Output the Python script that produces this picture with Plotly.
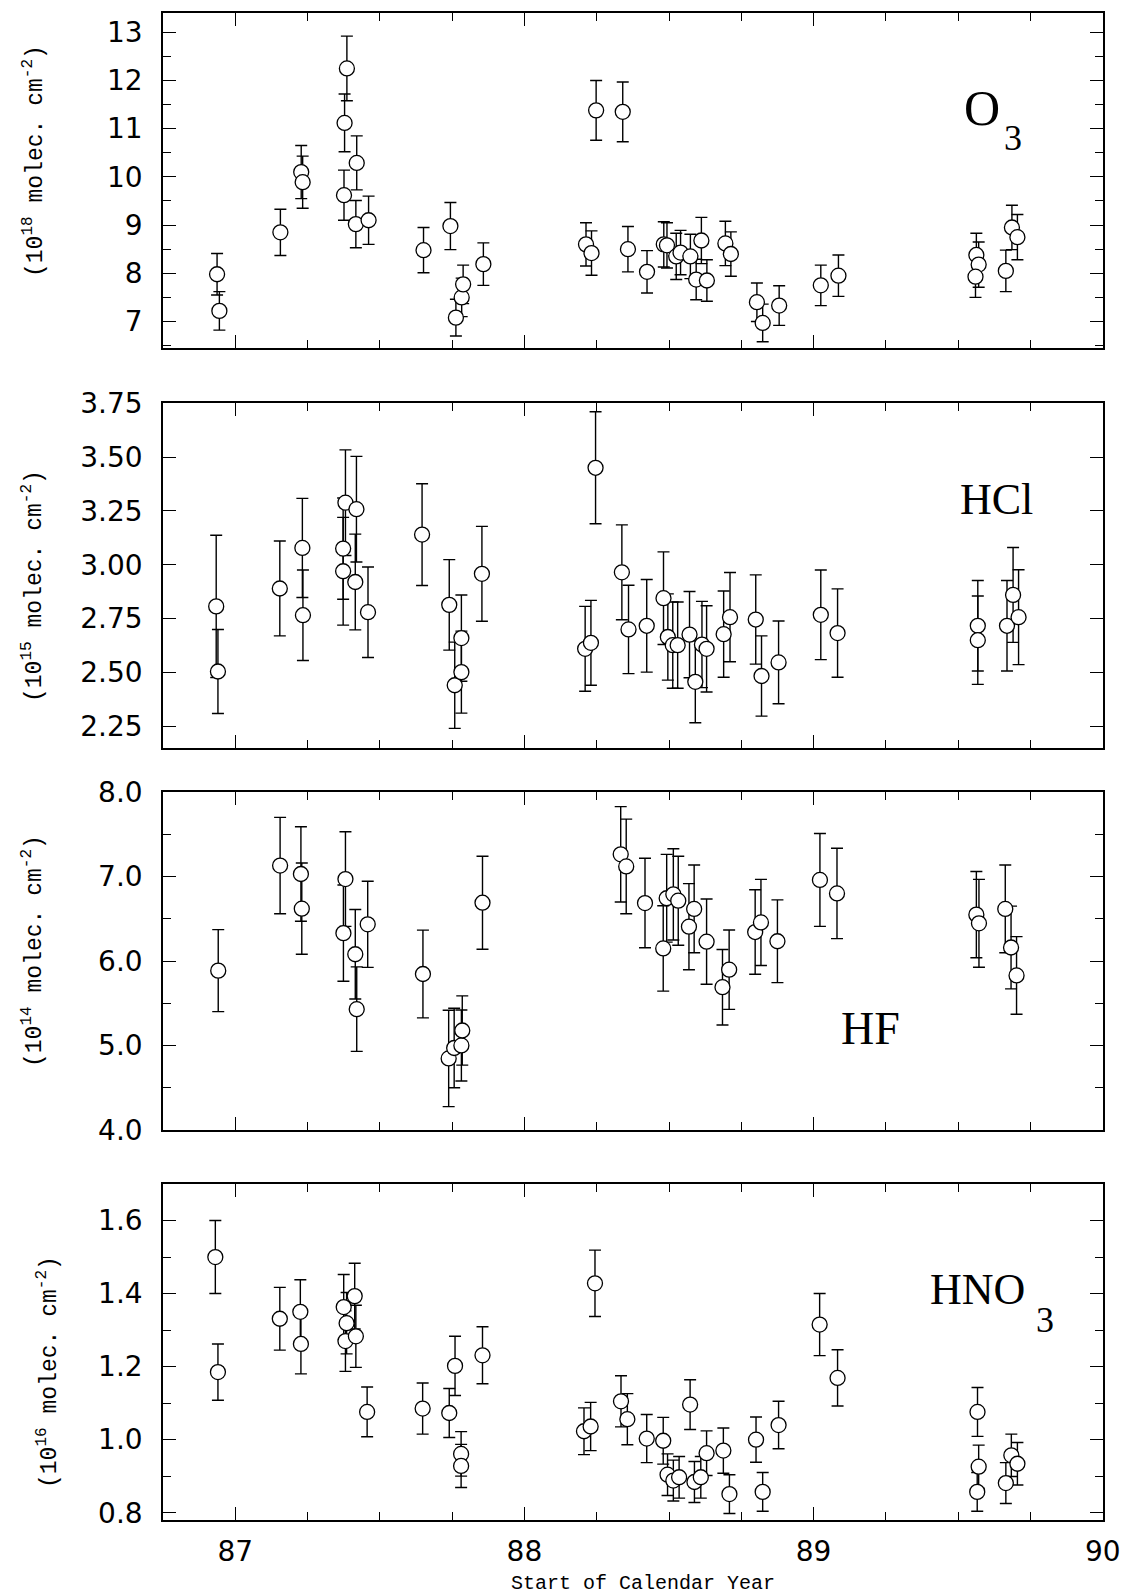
import plotly.graph_objects as go

W, H = 1124, 1594

# ---------------- data ----------------
o3_year = [86.937, 86.945, 87.156, 87.228, 87.233, 87.386, 87.378, 87.376, 87.420, 87.417,
           87.461, 87.651, 87.744, 87.763, 87.783, 87.788, 87.858, 88.248, 88.340, 88.213,
           88.232, 88.358, 88.424, 88.482, 88.493, 88.525, 88.540, 88.574, 88.594, 88.612,
           88.631, 88.695, 88.714, 88.804, 88.824, 88.881, 89.025, 89.086, 89.563, 89.571,
           89.560, 89.665, 89.686, 89.705]
o3_val = [7.98, 7.22, 8.85, 10.10, 9.89, 12.25, 11.12, 9.62, 10.29, 9.02,
          9.10, 8.48, 8.98, 7.08, 7.50, 7.77, 8.19, 11.38, 11.35, 8.60,
          8.42, 8.50, 8.03, 8.60, 8.58, 8.35, 8.43, 8.35, 7.87, 8.68,
          7.85, 8.62, 8.40, 7.40, 6.97, 7.33, 7.75, 7.95, 8.38, 8.18,
          7.93, 8.05, 8.95, 8.75]
o3_err = [0.43, 0.40, 0.48, 0.55, 0.54, 0.67, 0.60, 0.52, 0.56, 0.49,
          0.50, 0.47, 0.49, 0.38, 0.40, 0.40, 0.44, 0.62, 0.62, 0.45,
          0.46, 0.47, 0.44, 0.47, 0.47, 0.48, 0.46, 0.46, 0.42, 0.48,
          0.43, 0.46, 0.46, 0.40, 0.39, 0.41, 0.42, 0.43, 0.45, 0.47,
          0.43, 0.43, 0.46, 0.47]

hcl_year = [86.934, 86.940, 87.154, 87.232, 87.234, 87.381, 87.373, 87.373, 87.419, 87.415,
            87.459, 87.646, 87.740, 87.759, 87.782, 87.782, 87.853, 88.246, 88.210, 88.230,
            88.337, 88.360, 88.423, 88.481, 88.496, 88.513, 88.530, 88.571, 88.591, 88.614,
            88.630, 88.689, 88.711, 88.800, 88.820, 88.879, 89.025, 89.083, 89.568, 89.568,
            89.669, 89.690, 89.709]
hcl_val = [2.807, 2.505, 2.890, 3.078, 2.766, 3.288, 3.075, 2.970, 3.258, 2.920,
           2.780, 3.140, 2.814, 2.441, 2.660, 2.502, 2.958, 3.450, 2.610, 2.638,
           2.965, 2.700, 2.717, 2.845, 2.665, 2.627, 2.627, 2.676, 2.457, 2.630,
           2.610, 2.678, 2.757, 2.746, 2.484, 2.547, 2.768, 2.683, 2.717, 2.650,
           2.717, 2.860, 2.757]
hcl_err = [0.330, 0.195, 0.220, 0.230, 0.210, 0.245, 0.235, 0.250, 0.245, 0.222,
           0.210, 0.236, 0.210, 0.200, 0.200, 0.190, 0.220, 0.260, 0.197, 0.197,
           0.220, 0.205, 0.215, 0.215, 0.200, 0.200, 0.200, 0.200, 0.190, 0.200,
           0.200, 0.200, 0.207, 0.207, 0.186, 0.192, 0.208, 0.205, 0.210, 0.205,
           0.210, 0.220, 0.220]

hf_year = [86.941, 87.155, 87.227, 87.230, 87.381, 87.374, 87.415, 87.420, 87.458, 87.649,
           87.738, 87.757, 87.782, 87.785, 87.855, 88.333, 88.352, 88.417, 88.480, 88.492,
           88.515, 88.532, 88.569, 88.587, 88.630, 88.685, 88.708, 88.798, 88.818, 88.875,
           89.022, 89.081, 89.563, 89.572, 89.663, 89.683, 89.702]
hf_val = [5.886, 7.130, 7.030, 6.620, 6.970, 6.330, 6.080, 5.430, 6.434, 5.846,
          4.846, 4.970, 5.000, 5.177, 6.690, 7.263, 7.120, 6.686, 6.149, 6.743,
          6.789, 6.714, 6.406, 6.617, 6.229, 5.690, 5.897, 6.343, 6.457, 6.234,
          6.960, 6.800, 6.549, 6.446, 6.617, 6.160, 5.829]
hf_err = [0.486, 0.570, 0.560, 0.540, 0.560, 0.570, 0.530, 0.500, 0.510, 0.520,
          0.570, 0.470, 0.420, 0.410, 0.550, 0.565, 0.560, 0.530, 0.506, 0.520,
          0.540, 0.527, 0.510, 0.520, 0.505, 0.447, 0.470, 0.500, 0.510, 0.490,
          0.550, 0.535, 0.510, 0.520, 0.520, 0.490, 0.460]

hno3_year = [86.931, 86.940, 87.154, 87.225, 87.227, 87.375, 87.385, 87.381, 87.413, 87.417,
             87.456, 87.648, 87.740, 87.760, 87.781, 87.781, 87.855, 88.244, 88.206, 88.229,
             88.334, 88.356, 88.423, 88.480, 88.495, 88.515, 88.535, 88.573, 88.588, 88.610,
             88.630, 88.688, 88.709, 88.801, 88.824, 88.879, 89.021, 89.083, 89.567, 89.571,
             89.566, 89.665, 89.684, 89.705]
hno3_val = [1.500, 1.185, 1.331, 1.350, 1.262, 1.363, 1.319, 1.270, 1.393, 1.283,
            1.076, 1.085, 1.073, 1.202, 0.961, 0.928, 1.231, 1.428, 1.023, 1.036,
            1.105, 1.056, 1.003, 0.997, 0.904, 0.888, 0.897, 1.096, 0.884, 0.897,
            0.963, 0.970, 0.851, 1.000, 0.857, 1.040, 1.315, 1.169, 1.076, 0.926,
            0.857, 0.881, 0.957, 0.934]
hno3_err = [0.100, 0.077, 0.086, 0.088, 0.082, 0.089, 0.084, 0.083, 0.090, 0.085,
            0.068, 0.070, 0.067, 0.081, 0.061, 0.059, 0.078, 0.091, 0.064, 0.066,
            0.070, 0.070, 0.066, 0.064, 0.057, 0.056, 0.057, 0.068, 0.056, 0.057,
            0.061, 0.062, 0.053, 0.062, 0.053, 0.065, 0.085, 0.077, 0.067, 0.059,
            0.053, 0.056, 0.058, 0.058]

x_tick_vals = [87, 88, 89, 90]
x_tick_text = ["87", "88", "89", "90"]
x_title = "Start of Calendar Year"

panels = [
    dict(x=o3_year, y=o3_val, e=o3_err, rng=[6.45, 13.4], dtick=1, minor=0.5, fmt="d",
         title="(10<sup>18</sup> molec. cm<sup>-2</sup>)", top=13, bot=348, ty=161, tx=34),
    dict(x=hcl_year, y=hcl_val, e=hcl_err, rng=[2.15, 3.7505], dtick=0.25, minor=None, fmt=".2f",
         title="(10<sup>15</sup> molec. cm<sup>-2</sup>)", top=403, bot=748, ty=586, tx=33),
    dict(x=hf_year, y=hf_val, e=hf_err, rng=[3.999, 8.001], dtick=1, minor=0.5, fmt=".1f",
         title="(10<sup>14</sup> molec. cm<sup>-2</sup>)", top=792, bot=1130, ty=951, tx=33),
    dict(x=hno3_year, y=hno3_val, e=hno3_err, rng=[0.78, 1.70], dtick=0.2, minor=0.1, fmt=".1f",
         title="(10<sup>16</sup> molec. cm<sup>-2</sup>)", top=1184, bot=1520, ty=1372, tx=48),
]

LEFT, RIGHT = 163, 1103
TICKFONT = dict(family="DejaVu Sans", size=28, color="black")
MONO = "Liberation Mono"
SERIF = "Liberation Serif"

fig = go.Figure()
layout = dict(
    width=W, height=H, margin=dict(l=0, r=0, t=0, b=0, autoexpand=False),
    paper_bgcolor="white", plot_bgcolor="white", showlegend=False,
)

def px(x):
    return x / W

def py(y):
    return 1 - y / H

annotations = []
for i, p in enumerate(panels):
    n = i + 1
    xa = "x" if n == 1 else f"x{n}"
    ya = "y" if n == 1 else f"y{n}"
    fig.add_trace(go.Scatter(
        x=p["x"], y=p["y"], xaxis=xa, yaxis=ya, mode="markers",
        marker=dict(symbol="circle", size=15, color="white",
                    line=dict(color="black", width=1.3)),
        error_y=dict(type="data", array=p["e"], visible=True, color="black",
                     thickness=1.4, width=6),
        hoverinfo="skip",
    ))
    xkey = "xaxis" if n == 1 else f"xaxis{n}"
    ykey = "yaxis" if n == 1 else f"yaxis{n}"
    layout[xkey] = dict(
        domain=[px(LEFT), px(RIGHT)], range=[86.75, 90.001], anchor=ya,
        automargin=False,
        tickmode="array", tickvals=x_tick_vals, ticktext=x_tick_text,
        showticklabels=(n == 4), ticks="inside", ticklen=13, tickwidth=1.4,
        tickcolor="black", showline=True, linecolor="black", linewidth=1.5,
        mirror="allticks", showgrid=False, zeroline=False,
        tickfont=TICKFONT, ticklabelstandoff=6,
        minor=dict(dtick=0.25, tick0=0, ticks="inside", ticklen=8, tickwidth=1.3,
                   tickcolor="black", showgrid=False),
    )
    yax = dict(
        domain=[py(p["bot"]), py(p["top"])], range=p["rng"], anchor=xa,
        automargin=False,
        tickmode="linear", tick0=0, dtick=p["dtick"], tickformat=p["fmt"],
        ticks="inside", ticklen=13, tickwidth=1.4, tickcolor="black",
        showline=True, linecolor="black", linewidth=1.5, mirror="allticks",
        showgrid=False, zeroline=False, tickfont=TICKFONT, ticklabelstandoff=13,
    )
    if p["minor"]:
        yax["minor"] = dict(dtick=p["minor"], tick0=0, ticks="inside", ticklen=8,
                            tickwidth=1.3, tickcolor="black", showgrid=False)
    layout[ykey] = yax
    annotations.append(dict(
        text=p["title"], textangle=-90, xref="paper", yref="paper",
        x=px(p["tx"]), y=py(p["ty"]), xanchor="center", yanchor="middle",
        showarrow=False, font=dict(family=MONO, size=23, color="black"),
    ))

# species labels
labels = [
    ("O", 982, 108, 50), ("3", 1013, 138, 36),
    ("HCl", 997, 499, 44),
    ("HF", 870, 1028, 46),
    ("HNO", 977, 1289, 44), ("3", 1045, 1320, 36),
]
for t, x, y, s in labels:
    annotations.append(dict(
        text=t, xref="paper", yref="paper", x=px(x), y=py(y),
        xanchor="center", yanchor="middle", showarrow=False,
        font=dict(family=SERIF, size=s, color="black"),
    ))

annotations.append(dict(
    text=x_title, xref="paper", yref="paper", x=px(643), y=py(1583),
    xanchor="center", yanchor="middle", showarrow=False,
    font=dict(family=MONO, size=20, color="black"),
))

layout["annotations"] = annotations
fig.update_layout(**layout)
fig.write_html("out.html")
